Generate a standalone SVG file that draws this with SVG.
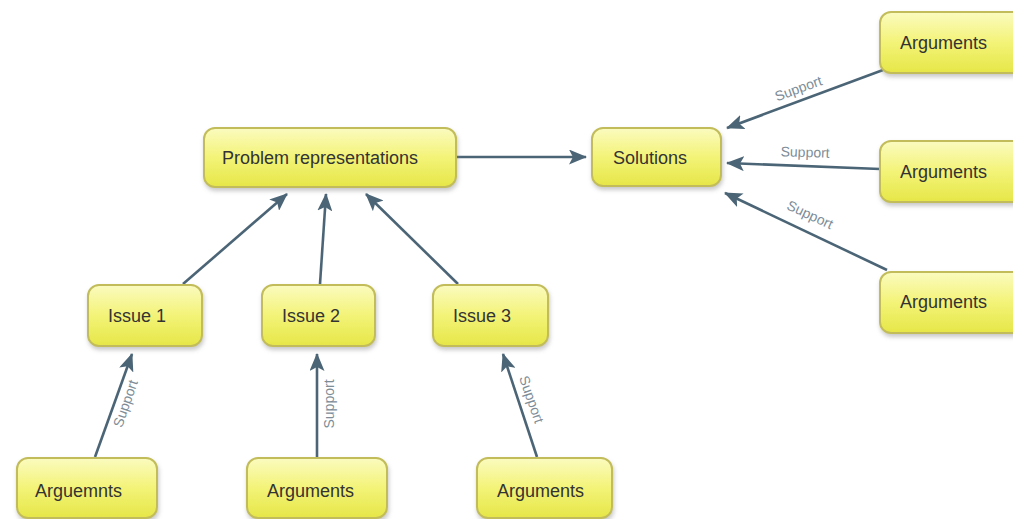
<svg xmlns="http://www.w3.org/2000/svg" width="1013" height="519" viewBox="0 0 1013 519">
<style>
.box{fill:url(#yg);stroke:#c2bd5a;stroke-width:2;filter:url(#sh)}
.t{font-family:"Liberation Sans",Arial,sans-serif;font-size:18px;fill:#333}
.c{stroke:#4b6576;stroke-width:2.6;fill:none;marker-end:url(#ah)}
.l{font-family:"Liberation Sans",Arial,sans-serif;font-size:14px;fill:#7d8d98;text-anchor:middle}
</style>
<defs>
<linearGradient id="yg" x1="0" y1="0" x2="0" y2="1">
<stop offset="0" stop-color="#fbfbc0"/>
<stop offset="0.5" stop-color="#f3f378"/>
<stop offset="1" stop-color="#e6e648"/>
</linearGradient>
<filter id="sh" x="-10%" y="-10%" width="130%" height="140%">
<feDropShadow dx="1" dy="3" stdDeviation="2" flood-color="#888" flood-opacity="0.45"/>
</filter>
<marker id="ah" viewBox="0 0 18 15" refX="17" refY="7.5" markerWidth="18" markerHeight="15" markerUnits="userSpaceOnUse" orient="auto">
<path d="M0,0 L18,7.5 L0,15 L4,7.5 Z" fill="#4b6576"/>
</marker>
</defs>
<rect width="1013" height="519" fill="#fff"/>
<g id="connectors">
<line class="c" x1="183" y1="284" x2="287" y2="194"/>
<line class="c" x1="320" y1="284" x2="326" y2="194"/>
<line class="c" x1="458" y1="284" x2="366" y2="194"/>
<line class="c" x1="457" y1="157" x2="586" y2="157"/>
<line class="c" x1="883" y1="70" x2="727" y2="128"/>
<line class="c" x1="880" y1="169" x2="727" y2="163"/>
<line class="c" x1="887" y1="270" x2="725" y2="193"/>
<line class="c" x1="95" y1="457" x2="132" y2="354"/>
<line class="c" x1="317" y1="457" x2="317" y2="354"/>
<line class="c" x1="537" y1="457" x2="503" y2="354"/>
<text class="l" transform="translate(800,93) rotate(-20)">Support</text>
<text class="l" transform="translate(805,157) rotate(2)">Support</text>
<text class="l" transform="translate(808,219) rotate(25)">Support</text>
<text class="l" transform="translate(130,405) rotate(-71)">Support</text>
<text class="l" transform="translate(334,404) rotate(-90)">Support</text>
<text class="l" transform="translate(527,401) rotate(71)">Support</text>
</g>
<g id="problem"><rect class="box" x="204" y="128" width="252" height="59" rx="11"/><text class="t" x="222" y="164">Problem representations</text></g>
<g id="solutions"><rect class="box" x="592" y="128" width="129" height="58" rx="11"/><text class="t" x="613" y="164">Solutions</text></g>
<g id="arg-r1"><rect class="box" x="880" y="12" width="150" height="61" rx="11"/><text class="t" x="900" y="49">Arguments</text></g>
<g id="arg-r2"><rect class="box" x="880" y="141" width="150" height="61" rx="11"/><text class="t" x="900" y="178">Arguments</text></g>
<g id="arg-r3"><rect class="box" x="880" y="272" width="150" height="61" rx="11"/><text class="t" x="900" y="308">Arguments</text></g>
<g id="issue1"><rect class="box" x="88" y="285" width="114" height="61" rx="11"/><text class="t" x="108" y="322">Issue 1</text></g>
<g id="issue2"><rect class="box" x="262" y="285" width="113" height="61" rx="11"/><text class="t" x="282" y="322">Issue 2</text></g>
<g id="issue3"><rect class="box" x="433" y="285" width="115" height="61" rx="11"/><text class="t" x="453" y="322">Issue 3</text></g>
<g id="arg-b1"><rect class="box" x="17" y="458" width="140" height="60" rx="11"/><text class="t" x="35" y="497">Arguemnts</text></g>
<g id="arg-b2"><rect class="box" x="247" y="458" width="140" height="60" rx="11"/><text class="t" x="267" y="497">Arguments</text></g>
<g id="arg-b3"><rect class="box" x="477" y="458" width="135" height="60" rx="11"/><text class="t" x="497" y="497">Arguments</text></g>
</svg>
